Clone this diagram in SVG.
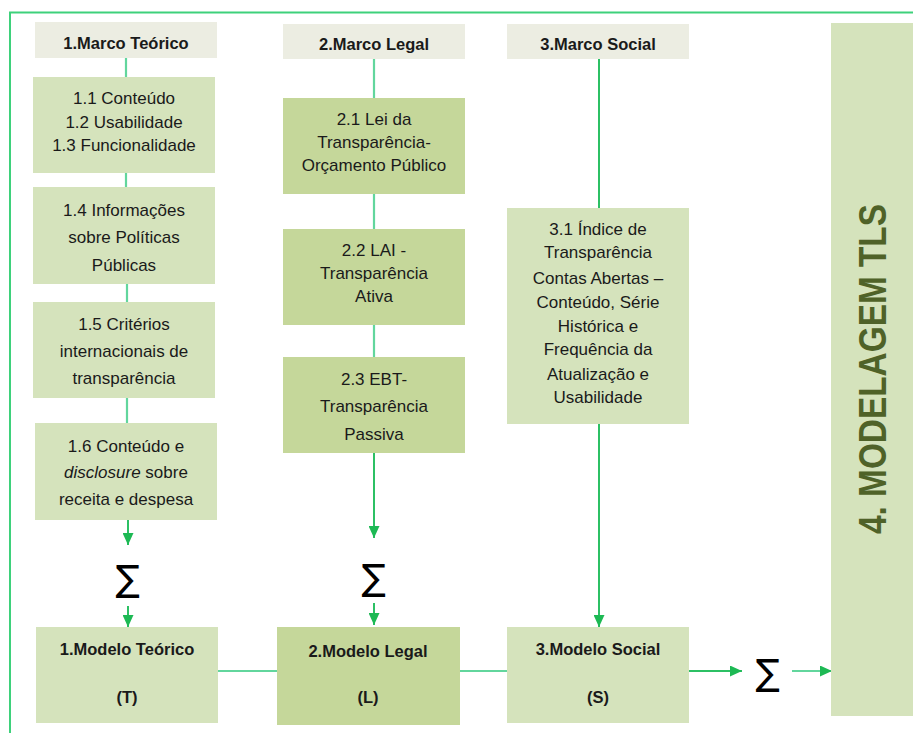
<svg xmlns="http://www.w3.org/2000/svg" width="913" height="733" viewBox="0 0 913 733">
  <defs>
    <marker id="arrow" viewBox="0 0 12 11" refX="12" refY="5.5" markerWidth="12" markerHeight="11" markerUnits="userSpaceOnUse" orient="auto">
      <path d="M0,0 L12,5.5 L0,11 Z" fill="#1DB954"/>
    </marker>
  </defs>
  <style>
    .frame { fill: none; stroke: #3ED17B; stroke-width: 2; }
    .head { fill: #ECEDE2; }
    .light { fill: #D5E3BC; }
    .dark { fill: #C5D79A; }
    .big { fill: #D5E3BC; }
    .link { stroke: #62D69D; stroke-width: 2.2; fill: none; }
    .arr { stroke: #2CC064; stroke-width: 2; fill: none; }
    text { font-family: "Liberation Sans", Arial, sans-serif; fill: #1A1A1A; text-anchor: middle; }
    .t { font-size: 17px; }
    .b { font-size: 16.5px; font-weight: bold; }
    .sum { font-family: "DejaVu Sans", sans-serif; font-size: 36px; fill: #000; }
    .tls { font-size: 38px; font-weight: bold; fill: #4F6228; }
  </style>

  <!-- outer frame (top and left edges) -->
  <path class="frame" d="M10,733 L10,12.5 L913,12.5"/>

  <!-- connectors -->
  <g id="connectors">
    <line class="link" x1="126" y1="58" x2="126" y2="77"/>
    <line class="link" x1="126" y1="173" x2="126" y2="187"/>
    <line class="link" x1="127" y1="284" x2="127" y2="302"/>
    <line class="link" x1="127" y1="398" x2="127" y2="423"/>
    <line class="arr" x1="128" y1="520" x2="128" y2="545" marker-end="url(#arrow)"/>
    <line class="arr" x1="128" y1="606" x2="128" y2="627" marker-end="url(#arrow)"/>

    <line class="link" x1="374" y1="59" x2="374" y2="98"/>
    <line class="link" x1="374" y1="194" x2="374" y2="229"/>
    <line class="link" x1="374" y1="325" x2="374" y2="357"/>
    <line class="arr" x1="374" y1="453" x2="374" y2="538" marker-end="url(#arrow)"/>
    <line class="arr" x1="374" y1="603" x2="374" y2="625" marker-end="url(#arrow)"/>

    <line class="arr" x1="599" y1="59" x2="599" y2="208"/>
    <line class="arr" x1="599" y1="424" x2="599" y2="627" marker-end="url(#arrow)"/>

    <line class="link" x1="218" y1="671" x2="277" y2="671"/>
    <line class="link" x1="460" y1="671" x2="507" y2="671"/>
    <line class="arr" x1="689" y1="671" x2="742" y2="671" marker-end="url(#arrow)"/>
    <line class="link" x1="792" y1="671" x2="832" y2="671" marker-end="url(#arrow)"/>

    <text class="sum" x="128" y="591">∑</text>
    <text class="sum" x="374" y="590">∑</text>
    <text class="sum" x="768" y="685">∑</text>
  </g>

  <!-- column 1: theoretical framework -->
  <g id="marco-teorico">
    <rect class="head" x="35" y="22" width="182" height="36"/>
    <text class="b" x="126" y="49">1.Marco Teórico</text>
  </g>
  <g id="n1-1">
    <rect class="light" x="33" y="77" width="182" height="96"/>
    <text class="t" x="124" y="104">1.1 Conteúdo</text>
    <text class="t" x="124" y="128">1.2 Usabilidade</text>
    <text class="t" x="124" y="151">1.3 Funcionalidade</text>
  </g>
  <g id="n1-4">
    <rect class="light" x="33" y="187" width="182" height="97"/>
    <text class="t" x="124" y="216">1.4 Informações</text>
    <text class="t" x="124" y="243">sobre Políticas</text>
    <text class="t" x="124" y="271">Públicas</text>
  </g>
  <g id="n1-5">
    <rect class="light" x="33" y="302" width="182" height="96"/>
    <text class="t" x="124" y="330">1.5 Critérios</text>
    <text class="t" x="124" y="357">internacionais de</text>
    <text class="t" x="124" y="384">transparência</text>
  </g>
  <g id="n1-6">
    <rect class="light" x="35" y="423" width="182" height="97"/>
    <text class="t" x="126" y="452">1.6 Conteúdo e</text>
    <text class="t" x="126" y="478"><tspan font-style="italic">disclosure</tspan> sobre</text>
    <text class="t" x="126" y="505">receita e despesa</text>
  </g>

  <!-- column 2: legal framework -->
  <g id="marco-legal">
    <rect class="head" x="283" y="24" width="182" height="35"/>
    <text class="b" x="374" y="50">2.Marco Legal</text>
  </g>
  <g id="n2-1">
    <rect class="dark" x="283" y="98" width="182" height="96"/>
    <text class="t" x="374" y="125">2.1 Lei da</text>
    <text class="t" x="374" y="148">Transparência-</text>
    <text class="t" x="374" y="171">Orçamento Público</text>
  </g>
  <g id="n2-2">
    <rect class="dark" x="283" y="229" width="182" height="96"/>
    <text class="t" x="374" y="256">2.2 LAI -</text>
    <text class="t" x="374" y="279">Transparência</text>
    <text class="t" x="374" y="302">Ativa</text>
  </g>
  <g id="n2-3">
    <rect class="dark" x="283" y="357" width="182" height="96"/>
    <text class="t" x="374" y="385">2.3 EBT-</text>
    <text class="t" x="374" y="412">Transparência</text>
    <text class="t" x="374" y="440">Passiva</text>
  </g>

  <!-- column 3: social framework -->
  <g id="marco-social">
    <rect class="head" x="507" y="24" width="182" height="35"/>
    <text class="b" x="598" y="50">3.Marco Social</text>
  </g>
  <g id="n3-1">
    <rect class="light" x="507" y="208" width="182" height="216"/>
    <text class="t" x="598" y="235">3.1 Índice de</text>
    <text class="t" x="598" y="258">Transparência</text>
    <text class="t" x="598" y="284">Contas Abertas –</text>
    <text class="t" x="598" y="308">Conteúdo, Série</text>
    <text class="t" x="598" y="332">Histórica e</text>
    <text class="t" x="598" y="355">Frequência da</text>
    <text class="t" x="598" y="380">Atualização e</text>
    <text class="t" x="598" y="403">Usabilidade</text>
  </g>

  <!-- models -->
  <g id="modelo-teorico">
    <rect class="light" x="36" y="627" width="182" height="96"/>
    <text class="b" x="127" y="655">1.Modelo Teórico</text>
    <text class="b" x="127" y="703">(T)</text>
  </g>
  <g id="modelo-legal">
    <rect class="dark" x="277" y="627" width="183" height="98"/>
    <text class="b" x="368" y="657">2.Modelo Legal</text>
    <text class="b" x="368" y="703">(L)</text>
  </g>
  <g id="modelo-social">
    <rect class="light" x="507" y="627" width="182" height="96"/>
    <text class="b" x="598" y="655">3.Modelo Social</text>
    <text class="b" x="598" y="703">(S)</text>
  </g>

  <!-- final TLS modelling block -->
  <g id="modelagem-tls">
    <rect class="big" x="831" y="23" width="82" height="693"/>
    <text class="tls" transform="translate(886,369) rotate(-90)" textLength="330" lengthAdjust="spacingAndGlyphs">4. MODELAGEM TLS</text>
  </g>
</svg>
